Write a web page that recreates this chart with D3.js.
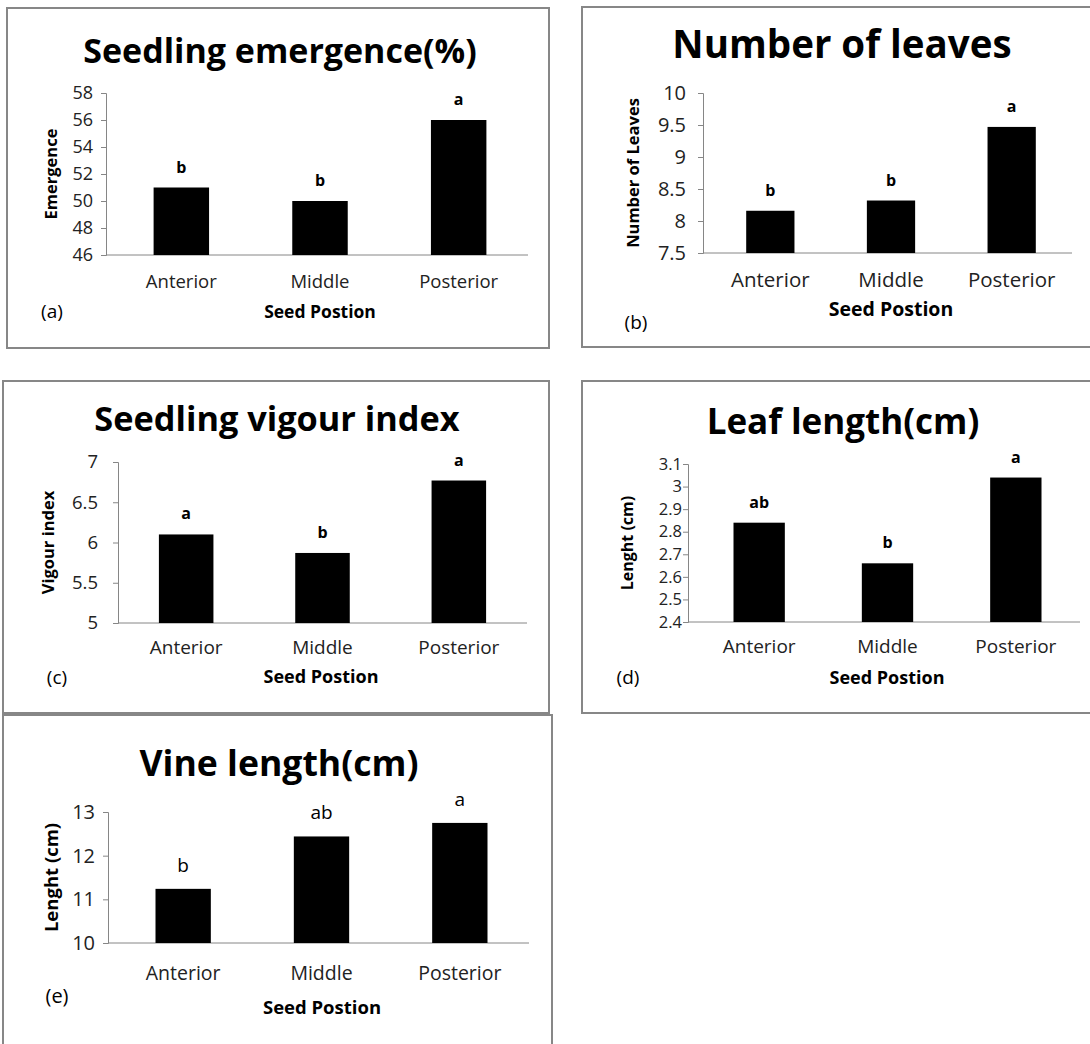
<!DOCTYPE html>
<html>
<head>
<meta charset="utf-8">
<script src="https://cdn.jsdelivr.net/npm/d3@7"></script>
<style>
  body { margin: 0; background: #fff; }
  text { font-family: "Open Sans", Lato, sans-serif; }
</style>
</head>
<body>
<div id="chart"></div>
<script>
// data
var categories = ["Anterior", "Middle", "Posterior"];

var emergenceValues = [51, 50, 56];
var emergenceLetters = ["b", "b", "a"];
var emergenceTicks = [46, 48, 50, 52, 54, 56, 58];

var leavesValues = [8.16, 8.32, 9.47];
var leavesLetters = ["b", "b", "a"];
var leavesTicks = [7.5, 8, 8.5, 9, 9.5, 10];

var vigourValues = [6.10, 5.87, 6.77];
var vigourLetters = ["a", "b", "a"];
var vigourTicks = [5, 5.5, 6, 6.5, 7];

var leafLenValues = [2.84, 2.66, 3.04];
var leafLenLetters = ["ab", "b", "a"];
var leafLenTicks = [2.4, 2.5, 2.6, 2.7, 2.8, 2.9, 3, 3.1];

var vineValues = [11.24, 12.44, 12.75];
var vineLetters = ["b", "ab", "a"];
var vineTicks = [10, 11, 12, 13];

var width = 1090, height = 1044;

var svg = d3.select("#chart")
    .append("svg")
    .attr("width", width)
    .attr("height", height);

// one panel per chart, layout numbers are pixel positions in the page
var panels = [
    { title: "Seedling emergence(%)", yLabel: "Emergence", tag: "(a)",
      values: emergenceValues, letters: emergenceLetters, ticks: emergenceTicks,
      frame: [7, 8, 542, 340], axisX: 106, band: [112, 528], yRange: [255, 93], tickPad: 8,
      titleY: 50, titleX: 280, yLabelX: 50, catY: 288, xTitleY: 318, xTitleX: 320,
      tagX: 52, tagY: 318, boldLetters: true,
      fs: { title: 34, tick: 18, cat: 18.5, xTitle: 17.5, yLabel: 16.5, tag: 19, letter: 16 } },
    { title: "Number of leaves", yLabel: "Number of Leaves", tag: "(b)",
      values: leavesValues, letters: leavesLetters, ticks: leavesTicks,
      frame: [582, 7, 520, 340], axisX: 703, band: [710, 1072], yRange: [253, 93], tickPad: 12,
      titleY: 43, titleX: 842, yLabelX: 632, catY: 287, xTitleY: 316, xTitleX: 891,
      tagX: 636, tagY: 329, boldLetters: true,
      fs: { title: 38.5, tick: 20, cat: 20.5, xTitle: 19.5, yLabel: 16.5, tag: 19, letter: 16 } },
    { title: "Seedling vigour index", yLabel: "Vigour index", tag: "(c)",
      values: vigourValues, letters: vigourLetters, ticks: vigourTicks,
      frame: [3, 381, 546, 332], axisX: 118, band: [118, 527], yRange: [623, 462], tickPad: 15,
      titleY: 417, titleX: 277, yLabelX: 47, catY: 654, xTitleY: 683, xTitleX: 321,
      tagX: 57, tagY: 684, boldLetters: true,
      fs: { title: 34.3, tick: 18.5, cat: 19, xTitle: 18, yLabel: 16.5, tag: 19, letter: 16 } },
    { title: "Leaf length(cm)", yLabel: "Lenght (cm)", tag: "(d)",
      values: leafLenValues, letters: leafLenLetters, ticks: leafLenTicks,
      frame: [582, 381, 520, 332], axisX: 688, band: [695, 1080], yRange: [622, 464], tickPad: 1,
      titleY: 420, titleX: 843, yLabelX: 627, catY: 653, xTitleY: 684, xTitleX: 887,
      tagX: 628, tagY: 684, boldLetters: true,
      fs: { title: 35, tick: 16.5, cat: 19, xTitle: 18, yLabel: 16, tag: 19, letter: 16 } },
    { title: "Vine length(cm)", yLabel: "Lenght (cm)", tag: "(e)",
      values: vineValues, letters: vineLetters, ticks: vineTicks,
      frame: [3, 715, 549, 360], axisX: 108, band: [114, 529], yRange: [943, 812], tickPad: 8,
      titleY: 762, titleX: 279, yLabelX: 50, catY: 980, xTitleY: 1014, xTitleX: 322,
      tagX: 57, tagY: 1003, boldLetters: false,
      fs: { title: 35.6, tick: 20, cat: 19.5, xTitle: 18.5, yLabel: 18.5, tag: 20, letter: 19 } }
];

panels.forEach(function(p) {
    var g = svg.append("g");

    // frame around the chart
    g.append("rect")
        .attr("x", p.frame[0])
        .attr("y", p.frame[1])
        .attr("width", p.frame[2])
        .attr("height", p.frame[3])
        .attr("fill", "none")
        .attr("stroke", "#878787")
        .attr("stroke-width", 2);

    var x = d3.scaleBand()
        .domain(categories)
        .range(p.band)
        .paddingInner(0.6)
        .paddingOuter(0.3);

    var y = d3.scaleLinear()
        .domain(d3.extent(p.ticks))
        .range(p.yRange);

    // title
    g.append("text")
        .attr("x", p.titleX)
        .attr("y", p.titleY)
        .attr("text-anchor", "middle")
        .attr("dominant-baseline", "central")
        .style("font-size", p.fs.title + "px")
        .style("font-weight", "bold")
        .text(p.title);

    // y axis
    var yAxis = g.append("g")
        .attr("transform", "translate(" + p.axisX + ",0)")
        .call(d3.axisLeft(y).tickValues(p.ticks).tickSize(5).tickPadding(p.tickPad).tickFormat(d3.format("")));
    yAxis.select(".domain").attr("stroke", "#868686");
    yAxis.selectAll(".tick line").attr("stroke", "#868686");
    yAxis.selectAll(".tick text")
        .attr("fill", "#222")
        .style("font-size", p.fs.tick + "px")
        .style("font-family", "'Open Sans', sans-serif");

    // x axis line
    g.append("line")
        .attr("x1", p.axisX)
        .attr("x2", p.band[1])
        .attr("y1", y.range()[0])
        .attr("y2", y.range()[0])
        .attr("stroke", "#868686");

    // bars
    g.selectAll(".bar")
        .data(p.values)
        .enter()
        .append("rect")
        .attr("class", "bar")
        .attr("x", (d, i) => x(categories[i]))
        .attr("width", x.bandwidth())
        .attr("y", d => y(d))
        .attr("height", d => y(d3.min(p.ticks)) - y(d))
        .attr("fill", "#000");

    // significance letters
    g.selectAll(".letter")
        .data(p.values)
        .enter()
        .append("text")
        .attr("class", "letter")
        .attr("x", (d, i) => x(categories[i]) + x.bandwidth() / 2)
        .attr("y", d => y(d) - (p.boldLetters ? 15 : 17))
        .attr("text-anchor", "middle")
        .style("font-size", p.fs.letter + "px")
        .style("font-weight", p.boldLetters ? "bold" : "normal")
        .text((d, i) => p.letters[i]);

    // category labels
    g.selectAll(".cat")
        .data(categories)
        .enter()
        .append("text")
        .attr("class", "cat")
        .attr("x", d => x(d) + x.bandwidth() / 2)
        .attr("y", p.catY)
        .attr("text-anchor", "middle")
        .attr("fill", "#222")
        .style("font-size", p.fs.cat + "px")
        .text(d => d);

    // x title
    g.append("text")
        .attr("x", p.xTitleX)
        .attr("y", p.xTitleY)
        .attr("text-anchor", "middle")
        .style("font-size", p.fs.xTitle + "px")
        .style("font-weight", "bold")
        .text("Seed Postion");

    // panel tag
    g.append("text")
        .attr("x", p.tagX)
        .attr("y", p.tagY)
        .attr("text-anchor", "middle")
        .style("font-size", p.fs.tag + "px")
        .text(p.tag);

    // y label
    var yMid = (p.yRange[0] + p.yRange[1]) / 2;
    g.append("text")
        .attr("transform", "translate(" + p.yLabelX + "," + yMid + ") rotate(-90)")
        .attr("text-anchor", "middle")
        .attr("dominant-baseline", "central")
        .style("font-size", p.fs.yLabel + "px")
        .style("font-weight", "bold")
        .text(p.yLabel);
});
</script>
</body>
</html>
